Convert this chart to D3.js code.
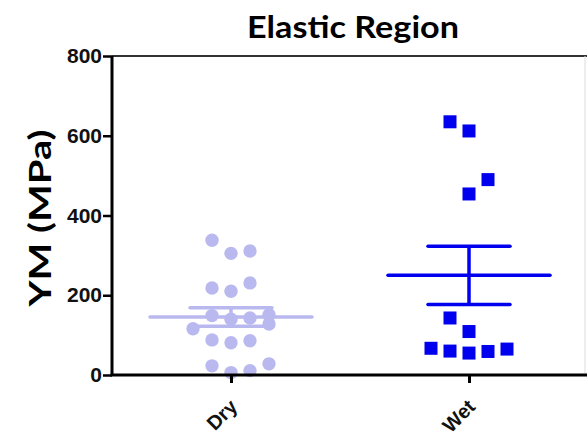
<!DOCTYPE html>
<html>
<head>
<meta charset="utf-8">
<script src="https://cdn.jsdelivr.net/npm/d3@7"></script>
<style>
  body { margin: 0; background: #fff; }
  svg { display: block; }
</style>
</head>
<body>
<div id="chart"></div>
<script>
var width = 587;
var height = 437;

// data
var groups = ["Dry", "Wet"];
var dryValues = [338, 305, 311, 218, 210, 231, 149, 140, 143, 151, 116, 128, 88, 81, 86, 23, 6, 11, 28];
var drySlots  = [-1, 0, 1, -1, 0, 1, -1, 0, 1, 2, -2, 2, -1, 0, 1, -1, 0, 1, 2];
var wetValues = [635, 612, 490, 454, 143, 109, 67, 60, 55, 59, 65];
var wetSlots  = [-1, 0, 1, 0, -1, 0, -2, -1, 0, 1, 2];
var yTicks = [0, 200, 400, 600, 800];

var dryColor = "#b9b9f0";
var wetColor = "#0000ee";

var svg = d3.select("#chart")
    .append("svg")
    .attr("width", width)
    .attr("height", height);

// scales
var xScale = d3.scalePoint().domain(groups).range([112, 588]).padding(0.5);
var yScale = d3.scaleLinear().domain([0, 800]).range([375, 56]);
var slotScale = d3.scaleLinear().domain([-1, 1]).range([-19, 19]);

// frame (top + right)
svg.append("line")
    .attr("x1", 112).attr("x2", width)
    .attr("y1", yScale(800)).attr("y2", yScale(800))
    .attr("stroke", "#333").attr("stroke-width", 2);
svg.append("line")
    .attr("x1", 585).attr("x2", 585)
    .attr("y1", yScale(800)).attr("y2", yScale(0))
    .attr("stroke", "#ddd").attr("stroke-width", 1);

// summary stats
function stats(vals) {
  var m = d3.mean(vals);
  var sem = d3.deviation(vals) / Math.sqrt(vals.length);
  return { mean: m, sem: sem };
}

function drawGroup(name, vals, slots, color, shape) {
  var cx = xScale(name);
  var s = stats(vals);
  var g = svg.append("g");
  var pts = vals.map(function(v, i) { return { v: v, slot: slots[i] }; });

  if (shape == "circle") {
    g.selectAll("circle")
      .data(pts)
      .enter()
      .append("circle")
      .attr("cx", function(d) { return cx + slotScale(d.slot); })
      .attr("cy", function(d) { return yScale(d.v); })
      .attr("r", 6.7)
      .attr("fill", color);
  } else {
    var sz = 13;
    g.selectAll("rect")
      .data(pts)
      .enter()
      .append("rect")
      .attr("x", function(d) { return cx + slotScale(d.slot) - sz / 2; })
      .attr("y", function(d) { return yScale(d.v) - sz / 2; })
      .attr("width", sz)
      .attr("height", sz)
      .attr("fill", color);
  }

  // mean line + SEM bars
  g.append("line")
    .attr("x1", cx - 81).attr("x2", cx + 81)
    .attr("y1", yScale(s.mean)).attr("y2", yScale(s.mean))
    .attr("stroke", color).attr("stroke-width", 3.5).attr("stroke-linecap", "round");
  g.append("line")
    .attr("x1", cx).attr("x2", cx)
    .attr("y1", yScale(s.mean + s.sem)).attr("y2", yScale(s.mean - s.sem))
    .attr("stroke", color).attr("stroke-width", 3.5);
  [s.mean + s.sem, s.mean - s.sem].forEach(function(v) {
    g.append("line")
      .attr("x1", cx - 41).attr("x2", cx + 41)
      .attr("y1", yScale(v)).attr("y2", yScale(v))
      .attr("stroke", color).attr("stroke-width", 3.5).attr("stroke-linecap", "round");
  });
}

drawGroup("Dry", dryValues, drySlots, dryColor, "circle");
drawGroup("Wet", wetValues, wetSlots, wetColor, "square");

// axes
var yAxis = d3.axisLeft(yScale).tickValues(yTicks).tickSize(9).tickPadding(1);
var xAxis = d3.axisBottom(xScale).tickSize(8).tickSizeOuter(0);

var yG = svg.append("g")
    .attr("transform", "translate(112,0)")
    .call(yAxis);
yG.select(".domain").attr("stroke", "#000").attr("stroke-width", 3)
    .attr("d", "M0," + yScale(800) + "V" + yScale(0));
yG.selectAll(".tick line").attr("stroke", "#000").attr("stroke-width", 2.5);
yG.selectAll(".tick text")
    .style("font-family", "'Liberation Sans', Arial, sans-serif")
    .style("font-weight", "bold")
    .style("font-size", "21px")
    .attr("fill", "#111");

var xG = svg.append("g")
    .attr("transform", "translate(0," + yScale(0) + ")")
    .call(xAxis);
xG.select(".domain").attr("stroke", "#000").attr("stroke-width", 3)
    .attr("d", "M110.5,0H" + width);
xG.selectAll(".tick line").attr("stroke", "#000").attr("stroke-width", 3);
xG.selectAll(".tick text")
    .style("font-family", "'Liberation Sans', Arial, sans-serif")
    .style("font-weight", "bold")
    .style("font-size", "20px")
    .attr("fill", "#111")
    .attr("text-anchor", "end")
    .attr("y", 0)
    .attr("dy", 0)
    .attr("transform", "translate(7,33) rotate(-45)");

// titles
svg.append("text")
    .attr("x", 353)
    .attr("y", 38)
    .attr("text-anchor", "middle")
    .attr("textLength", 212)
    .attr("lengthAdjust", "spacingAndGlyphs")
    .style("font-family", "Lato, 'Open Sans', sans-serif")
    .style("font-weight", "bold")
    .style("font-size", "30px")
    .text("Elastic Region");

svg.append("text")
    .attr("transform", "translate(51,218) rotate(-90)")
    .attr("text-anchor", "middle")
    .attr("textLength", 177)
    .attr("lengthAdjust", "spacingAndGlyphs")
    .style("font-family", "Lato, 'Open Sans', sans-serif")
    .style("font-weight", "bold")
    .style("font-size", "31px")
    .text("YM (MPa)");
</script>
</body>
</html>
